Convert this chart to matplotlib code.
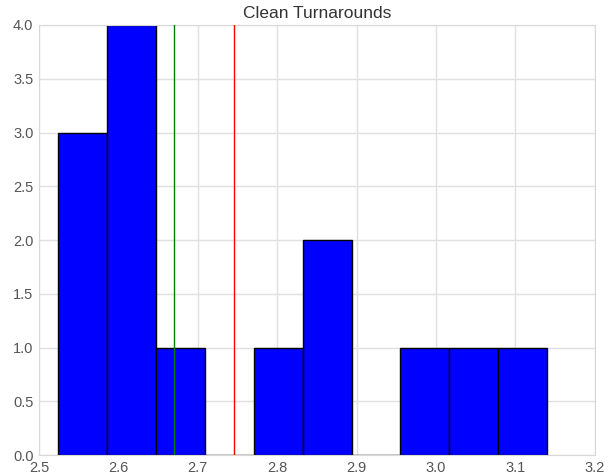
import matplotlib
matplotlib.use("Agg")
import matplotlib.pyplot as plt
import numpy as np

# turnaround values (14 observations)
turnarounds = [2.524, 2.535, 2.55, 2.59, 2.60, 2.63, 2.64, 2.70,
               2.81, 2.84, 2.86, 2.985, 3.03, 3.14]
n_bins = 10
title = "Clean Turnarounds"

plt.rcParams["font.family"] = ["Liberation Sans", "DejaVu Sans"]

fig = plt.figure(figsize=(6.1, 4.76), dpi=100)
ax = fig.add_axes([0.064, 0.044, 0.911, 0.9035])

ax.hist(turnarounds, bins=n_bins, color="#0000ff", edgecolor="black", linewidth=1, zorder=2)
ax.axvline(np.median(turnarounds), color="green", linewidth=1, zorder=3)
ax.axvline(np.mean(turnarounds), color="red", linewidth=1, zorder=3)

ax.set_xlim(2.5, 3.2)
ax.set_ylim(0, 4)
ax.set_xticks(np.arange(2.5, 3.21, 0.1))
ax.set_yticks(np.arange(0, 4.01, 0.5))
ax.xaxis.set_major_formatter(matplotlib.ticker.FormatStrFormatter("%.1f"))
ax.yaxis.set_major_formatter(matplotlib.ticker.FormatStrFormatter("%.1f"))
ax.grid(True, color="#e0e0e0", linewidth=1, zorder=0)
ax.set_axisbelow(True)
ax.tick_params(length=0, labelsize=10.5, labelcolor="#555555", pad=4)
for s in ax.spines.values():
    s.set_color("#d8d8d8")
ax.set_title(title, fontsize=12.5, color="#333333", pad=5)

fig.savefig("out.png", dpi=100)
